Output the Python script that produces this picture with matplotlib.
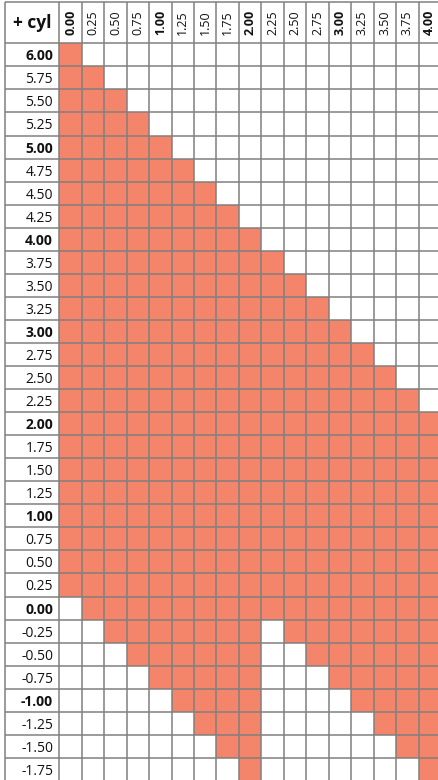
import numpy as np
import matplotlib
matplotlib.use('Agg')
from matplotlib import pyplot as plt
from matplotlib.colors import ListedColormap

# sphere rows (top to bottom) and cylinder columns
sph = [6.00, 5.75, 5.50, 5.25, 5.00, 4.75, 4.50, 4.25,
       4.00, 3.75, 3.50, 3.25, 3.00, 2.75, 2.50, 2.25,
       2.00, 1.75, 1.50, 1.25, 1.00, 0.75, 0.50, 0.25,
       0.00, -0.25, -0.50, -0.75, -1.00, -1.25, -1.50, -1.75]
cyl = [0.00, 0.25, 0.50, 0.75, 1.00, 1.25, 1.50, 1.75, 2.00,
       2.25, 2.50, 2.75, 3.00, 3.25, 3.50, 3.75, 4.00]

# 1 = available (coloured cell), one string per sphere row
covered = [
    "10000000000000000",
    "11000000000000000",
    "11100000000000000",
    "11110000000000000",
    "11111000000000000",
    "11111100000000000",
    "11111110000000000",
    "11111111000000000",
    "11111111100000000",
    "11111111110000000",
    "11111111111000000",
    "11111111111100000",
    "11111111111110000",
    "11111111111111000",
    "11111111111111100",
    "11111111111111110",
    "11111111111111111",
    "11111111111111111",
    "11111111111111111",
    "11111111111111111",
    "11111111111111111",
    "11111111111111111",
    "11111111111111111",
    "11111111111111111",
    "01111111111111111",
    "00111111101111111",
    "00011111100111111",
    "00001111100011111",
    "00000111100001111",
    "00000011100000111",
    "00000001100000011",
    "00000000100000001",
]

fill_color = '#F4846A'
line_color = '#808080'

plt.rcParams['font.family'] = ['Open Sans', 'DejaVu Sans']

W, H = 438, 780
cell_w, cell_h = 22.45, 23.05   # pixel size of one cell
left, top = 59.3, 43.3          # pixel position of first cell
lab_w = (left - 5) / cell_w     # label column width in cell units
head_h = (top - 2) / cell_h     # header height in cell units

fig = plt.figure(figsize=(W / 100, H / 100), dpi=100)
ax = fig.add_axes([0, 0, 1, 1])
ax.set_xlim(-left / cell_w, (W - left) / cell_w)
ax.set_ylim((H - top) / cell_h, -top / cell_h)
ax.axis('off')

grid = np.array([[int(ch) for ch in row] for row in covered])
ax.pcolormesh(np.arange(len(cyl) + 1), np.arange(len(sph) + 1), grid,
              cmap=ListedColormap(['white', fill_color]), vmin=0, vmax=1)

# grid lines, extended through header and label column
ax.vlines(np.arange(len(cyl) + 1), -head_h, len(sph), color=line_color, lw=1.1)
ax.vlines(-lab_w, -head_h, len(sph), color=line_color, lw=1.1)
ax.hlines(np.arange(len(sph) + 1), -lab_w, len(cyl), color=line_color, lw=1.1)
ax.hlines(-head_h, -lab_w, len(cyl), color=line_color, lw=1.1)

# row labels
for i, s in enumerate(sph):
    bold = float(s).is_integer()
    ax.text(-0.28, i + 0.5, '%.2f' % s, ha='right', va='center_baseline',
            fontsize=10, fontweight='bold' if bold else 'normal', color='#111111')

# column labels
for j, c in enumerate(cyl):
    bold = float(c).is_integer()
    ax.text(j + 0.5, -head_h / 2, '%.2f' % c, ha='center', va='center',
            rotation=90, fontsize=9, fontweight='bold' if bold else 'normal',
            color='#111111')

ax.text(-lab_w / 2, -head_h / 2, '+ cyl', ha='center', va='center',
        fontsize=12.5, fontweight='bold', color='#111111')

fig.savefig('out.png', dpi=100)
